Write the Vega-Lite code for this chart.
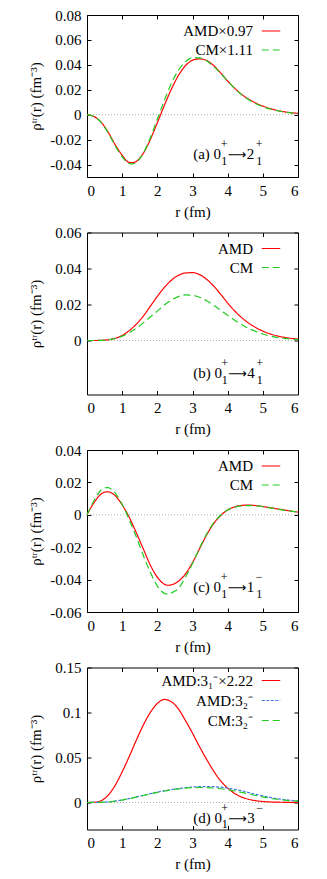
{
  "$schema": "https://vega.github.io/schema/vega-lite/v6.json",
  "background": "white",
  "padding": {"left": 27, "top": 7, "right": 0, "bottom": 0},
  "config": {
    "font": "Liberation Serif",
    "view": {"stroke": "#000", "strokeWidth": 1},
    "axis": {"grid": false, "domain": false, "tickColor": "#000", "tickSize": -4, "labelFont": "Liberation Serif", "labelFontSize": 15, "labelColor": "#000", "titleFont": "Liberation Serif", "titleFontSize": 15, "titleFontWeight": "normal", "titleColor": "#000", "labelPadding": 10, "labelExpr": "replace(format(datum.value, '~g'), '\u2212', '-')"},
    "axisBottom": {"titlePadding": 6},
    "axisLeft": {"titleX": -52, "titleY": 81, "titleAlign": "center", "titleBaseline": "middle", "titleAngle": -90},
    "legend": {"symbolType": "stroke", "symbolSize": 342, "symbolStrokeWidth": 1.2, "labelFont": "Liberation Serif", "labelFontSize": 15, "labelColor": "#000", "labelAlign": "right", "labelOffset": -28, "rowPadding": 1, "padding": 0, "labelLimit": 0},
    "text": {"font": "Liberation Serif", "fontSize": 15, "color": "#000"}
  },
  "datasets": {
    "a": [
      {"r":0,"v":0,"s":"AMD×0.97"},{"r":0.2,"v":-0.0015,"s":"AMD×0.97"},{"r":0.4,"v":-0.006,"s":"AMD×0.97"},{"r":0.6,"v":-0.014,"s":"AMD×0.97"},{"r":0.8,"v":-0.024,"s":"AMD×0.97"},{"r":1.0,"v":-0.0325,"s":"AMD×0.97"},{"r":1.2,"v":-0.0383,"s":"AMD×0.97"},{"r":1.3,"v":-0.0385,"s":"AMD×0.97"},{"r":1.4,"v":-0.0375,"s":"AMD×0.97"},{"r":1.6,"v":-0.031,"s":"AMD×0.97"},{"r":1.8,"v":-0.02,"s":"AMD×0.97"},{"r":2.0,"v":-0.0065,"s":"AMD×0.97"},{"r":2.2,"v":0.0075,"s":"AMD×0.97"},{"r":2.4,"v":0.0205,"s":"AMD×0.97"},{"r":2.6,"v":0.0315,"s":"AMD×0.97"},{"r":2.8,"v":0.0393,"s":"AMD×0.97"},{"r":3.0,"v":0.0437,"s":"AMD×0.97"},{"r":3.2,"v":0.0448,"s":"AMD×0.97"},{"r":3.4,"v":0.0435,"s":"AMD×0.97"},{"r":3.6,"v":0.0395,"s":"AMD×0.97"},{"r":3.8,"v":0.0335,"s":"AMD×0.97"},{"r":4.0,"v":0.027,"s":"AMD×0.97"},{"r":4.2,"v":0.0212,"s":"AMD×0.97"},{"r":4.4,"v":0.0163,"s":"AMD×0.97"},{"r":4.6,"v":0.0124,"s":"AMD×0.97"},{"r":4.8,"v":0.0093,"s":"AMD×0.97"},{"r":5.0,"v":0.0069,"s":"AMD×0.97"},{"r":5.2,"v":0.005,"s":"AMD×0.97"},{"r":5.4,"v":0.0035,"s":"AMD×0.97"},{"r":5.6,"v":0.0024,"s":"AMD×0.97"},{"r":5.8,"v":0.0016,"s":"AMD×0.97"},{"r":6.0,"v":0.0011,"s":"AMD×0.97"},
      {"r":0,"v":0,"s":"CM×1.11"},{"r":0.2,"v":-0.0015,"s":"CM×1.11"},{"r":0.4,"v":-0.0062,"s":"CM×1.11"},{"r":0.6,"v":-0.0145,"s":"CM×1.11"},{"r":0.8,"v":-0.025,"s":"CM×1.11"},{"r":1.0,"v":-0.0338,"s":"CM×1.11"},{"r":1.2,"v":-0.0393,"s":"CM×1.11"},{"r":1.3,"v":-0.0395,"s":"CM×1.11"},{"r":1.4,"v":-0.0383,"s":"CM×1.11"},{"r":1.6,"v":-0.031,"s":"CM×1.11"},{"r":1.8,"v":-0.0185,"s":"CM×1.11"},{"r":2.0,"v":-0.0035,"s":"CM×1.11"},{"r":2.2,"v":0.0115,"s":"CM×1.11"},{"r":2.4,"v":0.0252,"s":"CM×1.11"},{"r":2.6,"v":0.0357,"s":"CM×1.11"},{"r":2.8,"v":0.0425,"s":"CM×1.11"},{"r":3.0,"v":0.0458,"s":"CM×1.11"},{"r":3.2,"v":0.0456,"s":"CM×1.11"},{"r":3.4,"v":0.0432,"s":"CM×1.11"},{"r":3.6,"v":0.0388,"s":"CM×1.11"},{"r":3.8,"v":0.0332,"s":"CM×1.11"},{"r":4.0,"v":0.027,"s":"CM×1.11"},{"r":4.2,"v":0.021,"s":"CM×1.11"},{"r":4.4,"v":0.016,"s":"CM×1.11"},{"r":4.6,"v":0.012,"s":"CM×1.11"},{"r":4.8,"v":0.0088,"s":"CM×1.11"},{"r":5.0,"v":0.0064,"s":"CM×1.11"},{"r":5.2,"v":0.0046,"s":"CM×1.11"},{"r":5.4,"v":0.0032,"s":"CM×1.11"},{"r":5.6,"v":0.0022,"s":"CM×1.11"},{"r":5.8,"v":0.0015,"s":"CM×1.11"},{"r":6.0,"v":0.001,"s":"CM×1.11"}
    ],
    "b": [
      {"r":0,"v":0,"s":"AMD"},{"r":0.2,"v":0,"s":"AMD"},{"r":0.4,"v":0.0001,"s":"AMD"},{"r":0.6,"v":0.0004,"s":"AMD"},{"r":0.8,"v":0.0012,"s":"AMD"},{"r":1.0,"v":0.0028,"s":"AMD"},{"r":1.2,"v":0.0055,"s":"AMD"},{"r":1.4,"v":0.009,"s":"AMD"},{"r":1.6,"v":0.0135,"s":"AMD"},{"r":1.8,"v":0.019,"s":"AMD"},{"r":2.0,"v":0.0245,"s":"AMD"},{"r":2.2,"v":0.0295,"s":"AMD"},{"r":2.4,"v":0.0335,"s":"AMD"},{"r":2.6,"v":0.0362,"s":"AMD"},{"r":2.8,"v":0.0375,"s":"AMD"},{"r":3.0,"v":0.0377,"s":"AMD"},{"r":3.2,"v":0.0366,"s":"AMD"},{"r":3.4,"v":0.034,"s":"AMD"},{"r":3.6,"v":0.0303,"s":"AMD"},{"r":3.8,"v":0.0257,"s":"AMD"},{"r":4.0,"v":0.0208,"s":"AMD"},{"r":4.2,"v":0.0164,"s":"AMD"},{"r":4.4,"v":0.0127,"s":"AMD"},{"r":4.6,"v":0.0096,"s":"AMD"},{"r":4.8,"v":0.0072,"s":"AMD"},{"r":5.0,"v":0.0052,"s":"AMD"},{"r":5.2,"v":0.0037,"s":"AMD"},{"r":5.4,"v":0.0026,"s":"AMD"},{"r":5.6,"v":0.0018,"s":"AMD"},{"r":5.8,"v":0.0012,"s":"AMD"},{"r":6.0,"v":0.0008,"s":"AMD"},
      {"r":0,"v":0,"s":"CM"},{"r":0.2,"v":0,"s":"CM"},{"r":0.4,"v":0.0001,"s":"CM"},{"r":0.6,"v":0.0004,"s":"CM"},{"r":0.8,"v":0.0011,"s":"CM"},{"r":1.0,"v":0.0024,"s":"CM"},{"r":1.2,"v":0.0043,"s":"CM"},{"r":1.4,"v":0.0068,"s":"CM"},{"r":1.6,"v":0.0098,"s":"CM"},{"r":1.8,"v":0.0131,"s":"CM"},{"r":2.0,"v":0.0163,"s":"CM"},{"r":2.2,"v":0.0197,"s":"CM"},{"r":2.4,"v":0.0225,"s":"CM"},{"r":2.6,"v":0.0244,"s":"CM"},{"r":2.8,"v":0.0253,"s":"CM"},{"r":3.0,"v":0.0251,"s":"CM"},{"r":3.2,"v":0.024,"s":"CM"},{"r":3.4,"v":0.0221,"s":"CM"},{"r":3.6,"v":0.0196,"s":"CM"},{"r":3.8,"v":0.0168,"s":"CM"},{"r":4.0,"v":0.014,"s":"CM"},{"r":4.2,"v":0.0113,"s":"CM"},{"r":4.4,"v":0.0088,"s":"CM"},{"r":4.6,"v":0.0067,"s":"CM"},{"r":4.8,"v":0.005,"s":"CM"},{"r":5.0,"v":0.0036,"s":"CM"},{"r":5.2,"v":0.0025,"s":"CM"},{"r":5.4,"v":0.0017,"s":"CM"},{"r":5.6,"v":0.0012,"s":"CM"},{"r":5.8,"v":0.0008,"s":"CM"},{"r":6.0,"v":0.0005,"s":"CM"}
    ],
    "c": [
      {"r":0,"v":0,"s":"AMD"},{"r":0.1,"v":0.004,"s":"AMD"},{"r":0.2,"v":0.0075,"s":"AMD"},{"r":0.3,"v":0.0105,"s":"AMD"},{"r":0.4,"v":0.0128,"s":"AMD"},{"r":0.5,"v":0.014,"s":"AMD"},{"r":0.6,"v":0.0142,"s":"AMD"},{"r":0.7,"v":0.0135,"s":"AMD"},{"r":0.8,"v":0.0118,"s":"AMD"},{"r":0.9,"v":0.0093,"s":"AMD"},{"r":1.0,"v":0.0062,"s":"AMD"},{"r":1.1,"v":0.0025,"s":"AMD"},{"r":1.2,"v":-0.0015,"s":"AMD"},{"r":1.4,"v":-0.011,"s":"AMD"},{"r":1.6,"v":-0.021,"s":"AMD"},{"r":1.8,"v":-0.031,"s":"AMD"},{"r":2.0,"v":-0.0385,"s":"AMD"},{"r":2.2,"v":-0.0428,"s":"AMD"},{"r":2.3,"v":-0.0435,"s":"AMD"},{"r":2.4,"v":-0.0432,"s":"AMD"},{"r":2.6,"v":-0.041,"s":"AMD"},{"r":2.8,"v":-0.0365,"s":"AMD"},{"r":3.0,"v":-0.0295,"s":"AMD"},{"r":3.2,"v":-0.021,"s":"AMD"},{"r":3.4,"v":-0.0125,"s":"AMD"},{"r":3.6,"v":-0.0055,"s":"AMD"},{"r":3.8,"v":-0.0005,"s":"AMD"},{"r":4.0,"v":0.003,"s":"AMD"},{"r":4.2,"v":0.0049,"s":"AMD"},{"r":4.4,"v":0.0058,"s":"AMD"},{"r":4.6,"v":0.006,"s":"AMD"},{"r":4.8,"v":0.0057,"s":"AMD"},{"r":5.0,"v":0.0051,"s":"AMD"},{"r":5.2,"v":0.0044,"s":"AMD"},{"r":5.4,"v":0.0037,"s":"AMD"},{"r":5.6,"v":0.003,"s":"AMD"},{"r":5.8,"v":0.0023,"s":"AMD"},{"r":6.0,"v":0.0017,"s":"AMD"},
      {"r":0,"v":0,"s":"CM"},{"r":0.1,"v":0.0045,"s":"CM"},{"r":0.2,"v":0.0088,"s":"CM"},{"r":0.3,"v":0.0125,"s":"CM"},{"r":0.4,"v":0.0153,"s":"CM"},{"r":0.5,"v":0.0167,"s":"CM"},{"r":0.6,"v":0.0168,"s":"CM"},{"r":0.7,"v":0.0157,"s":"CM"},{"r":0.8,"v":0.0135,"s":"CM"},{"r":0.9,"v":0.0103,"s":"CM"},{"r":1.0,"v":0.0065,"s":"CM"},{"r":1.1,"v":0.002,"s":"CM"},{"r":1.2,"v":-0.003,"s":"CM"},{"r":1.4,"v":-0.0135,"s":"CM"},{"r":1.6,"v":-0.025,"s":"CM"},{"r":1.8,"v":-0.0355,"s":"CM"},{"r":2.0,"v":-0.044,"s":"CM"},{"r":2.2,"v":-0.0485,"s":"CM"},{"r":2.3,"v":-0.049,"s":"CM"},{"r":2.4,"v":-0.0482,"s":"CM"},{"r":2.6,"v":-0.0455,"s":"CM"},{"r":2.8,"v":-0.0385,"s":"CM"},{"r":3.0,"v":-0.03,"s":"CM"},{"r":3.2,"v":-0.0205,"s":"CM"},{"r":3.4,"v":-0.012,"s":"CM"},{"r":3.6,"v":-0.005,"s":"CM"},{"r":3.8,"v":-0.0003,"s":"CM"},{"r":4.0,"v":0.003,"s":"CM"},{"r":4.2,"v":0.0047,"s":"CM"},{"r":4.4,"v":0.0055,"s":"CM"},{"r":4.6,"v":0.0057,"s":"CM"},{"r":4.8,"v":0.0055,"s":"CM"},{"r":5.0,"v":0.005,"s":"CM"},{"r":5.2,"v":0.0043,"s":"CM"},{"r":5.4,"v":0.0036,"s":"CM"},{"r":5.6,"v":0.0029,"s":"CM"},{"r":5.8,"v":0.0023,"s":"CM"},{"r":6.0,"v":0.0017,"s":"CM"}
    ],
    "d": [
      {"r":0,"v":0,"s":"AMD:3₁⁻×2.22"},{"r":0.2,"v":0.0002,"s":"AMD:3₁⁻×2.22"},{"r":0.4,"v":0.002,"s":"AMD:3₁⁻×2.22"},{"r":0.6,"v":0.008,"s":"AMD:3₁⁻×2.22"},{"r":0.8,"v":0.019,"s":"AMD:3₁⁻×2.22"},{"r":1.0,"v":0.034,"s":"AMD:3₁⁻×2.22"},{"r":1.2,"v":0.051,"s":"AMD:3₁⁻×2.22"},{"r":1.4,"v":0.069,"s":"AMD:3₁⁻×2.22"},{"r":1.6,"v":0.086,"s":"AMD:3₁⁻×2.22"},{"r":1.8,"v":0.1,"s":"AMD:3₁⁻×2.22"},{"r":2.0,"v":0.11,"s":"AMD:3₁⁻×2.22"},{"r":2.2,"v":0.1145,"s":"AMD:3₁⁻×2.22"},{"r":2.4,"v":0.112,"s":"AMD:3₁⁻×2.22"},{"r":2.6,"v":0.104,"s":"AMD:3₁⁻×2.22"},{"r":2.8,"v":0.091,"s":"AMD:3₁⁻×2.22"},{"r":3.0,"v":0.077,"s":"AMD:3₁⁻×2.22"},{"r":3.2,"v":0.062,"s":"AMD:3₁⁻×2.22"},{"r":3.4,"v":0.048,"s":"AMD:3₁⁻×2.22"},{"r":3.6,"v":0.035,"s":"AMD:3₁⁻×2.22"},{"r":3.8,"v":0.024,"s":"AMD:3₁⁻×2.22"},{"r":4.0,"v":0.016,"s":"AMD:3₁⁻×2.22"},{"r":4.2,"v":0.01,"s":"AMD:3₁⁻×2.22"},{"r":4.4,"v":0.006,"s":"AMD:3₁⁻×2.22"},{"r":4.6,"v":0.0035,"s":"AMD:3₁⁻×2.22"},{"r":4.8,"v":0.002,"s":"AMD:3₁⁻×2.22"},{"r":5.0,"v":0.0011,"s":"AMD:3₁⁻×2.22"},{"r":5.5,"v":0.0003,"s":"AMD:3₁⁻×2.22"},{"r":6.0,"v":0.0001,"s":"AMD:3₁⁻×2.22"},
      {"r":0,"v":0,"s":"AMD:3₂⁻"},{"r":0.4,"v":0.0002,"s":"AMD:3₂⁻"},{"r":0.8,"v":0.0015,"s":"AMD:3₂⁻"},{"r":1.0,"v":0.0028,"s":"AMD:3₂⁻"},{"r":1.2,"v":0.0044,"s":"AMD:3₂⁻"},{"r":1.4,"v":0.0062,"s":"AMD:3₂⁻"},{"r":1.6,"v":0.008,"s":"AMD:3₂⁻"},{"r":1.8,"v":0.0098,"s":"AMD:3₂⁻"},{"r":2.0,"v":0.0115,"s":"AMD:3₂⁻"},{"r":2.2,"v":0.013,"s":"AMD:3₂⁻"},{"r":2.4,"v":0.0143,"s":"AMD:3₂⁻"},{"r":2.6,"v":0.0155,"s":"AMD:3₂⁻"},{"r":2.8,"v":0.0165,"s":"AMD:3₂⁻"},{"r":3.0,"v":0.0172,"s":"AMD:3₂⁻"},{"r":3.2,"v":0.0176,"s":"AMD:3₂⁻"},{"r":3.4,"v":0.0178,"s":"AMD:3₂⁻"},{"r":3.6,"v":0.0176,"s":"AMD:3₂⁻"},{"r":3.8,"v":0.017,"s":"AMD:3₂⁻"},{"r":4.0,"v":0.016,"s":"AMD:3₂⁻"},{"r":4.2,"v":0.0146,"s":"AMD:3₂⁻"},{"r":4.4,"v":0.013,"s":"AMD:3₂⁻"},{"r":4.6,"v":0.011,"s":"AMD:3₂⁻"},{"r":4.8,"v":0.0091,"s":"AMD:3₂⁻"},{"r":5.0,"v":0.0073,"s":"AMD:3₂⁻"},{"r":5.2,"v":0.0057,"s":"AMD:3₂⁻"},{"r":5.4,"v":0.0043,"s":"AMD:3₂⁻"},{"r":5.6,"v":0.0032,"s":"AMD:3₂⁻"},{"r":5.8,"v":0.0023,"s":"AMD:3₂⁻"},{"r":6.0,"v":0.0016,"s":"AMD:3₂⁻"},
      {"r":0,"v":0,"s":"CM:3₂⁻"},{"r":0.4,"v":0.0002,"s":"CM:3₂⁻"},{"r":0.8,"v":0.0015,"s":"CM:3₂⁻"},{"r":1.0,"v":0.0027,"s":"CM:3₂⁻"},{"r":1.2,"v":0.0043,"s":"CM:3₂⁻"},{"r":1.4,"v":0.006,"s":"CM:3₂⁻"},{"r":1.6,"v":0.0078,"s":"CM:3₂⁻"},{"r":1.8,"v":0.0096,"s":"CM:3₂⁻"},{"r":2.0,"v":0.0113,"s":"CM:3₂⁻"},{"r":2.2,"v":0.0128,"s":"CM:3₂⁻"},{"r":2.4,"v":0.0141,"s":"CM:3₂⁻"},{"r":2.6,"v":0.0152,"s":"CM:3₂⁻"},{"r":2.8,"v":0.016,"s":"CM:3₂⁻"},{"r":3.0,"v":0.0165,"s":"CM:3₂⁻"},{"r":3.2,"v":0.0167,"s":"CM:3₂⁻"},{"r":3.4,"v":0.0166,"s":"CM:3₂⁻"},{"r":3.6,"v":0.0161,"s":"CM:3₂⁻"},{"r":3.8,"v":0.0153,"s":"CM:3₂⁻"},{"r":4.0,"v":0.0142,"s":"CM:3₂⁻"},{"r":4.2,"v":0.0128,"s":"CM:3₂⁻"},{"r":4.4,"v":0.0112,"s":"CM:3₂⁻"},{"r":4.6,"v":0.0095,"s":"CM:3₂⁻"},{"r":4.8,"v":0.0078,"s":"CM:3₂⁻"},{"r":5.0,"v":0.0062,"s":"CM:3₂⁻"},{"r":5.2,"v":0.0048,"s":"CM:3₂⁻"},{"r":5.4,"v":0.0036,"s":"CM:3₂⁻"},{"r":5.6,"v":0.0027,"s":"CM:3₂⁻"},{"r":5.8,"v":0.002,"s":"CM:3₂⁻"},{"r":6.0,"v":0.0015,"s":"CM:3₂⁻"}
    ]
  },
  "resolve": {"scale": {"color": "independent", "strokeDash": "independent"}},
  "bounds": "flush",
  "spacing": 55.5,
  "vconcat": [
    {
      "width": 211, "height": 162,
      "data": {"name": "a"},
      "resolve": {"axis": {"x": "independent", "y": "independent"}},
      "layer": [
        {"data": {"values": [{}]}, "mark": {"type": "rule", "color": "#999", "strokeDash": [1, 2], "strokeWidth": 0.8}, "encoding": {"y": {"datum": 0, "type": "quantitative", "axis": null}}},
        {"mark": {"type": "line", "strokeWidth": 1.2, "interpolate": "monotone"},
         "encoding": {
           "x": {"field": "r", "type": "quantitative", "scale": {"domain": [0, 6], "nice": false, "zero": false}, "axis": {"orient": "bottom", "values": [0,1,2,3,4,5,6], "title": "r (fm)"}},
           "y": {"field": "v", "type": "quantitative", "scale": {"domain": [-0.05, 0.08], "nice": false, "zero": false}, "axis": {"orient": "left", "values": [-0.04,-0.02,0,0.02,0.04,0.06,0.08], "title": "ρᵗʳ(r) (fm⁻³)"}},
           "color": {"field": "s", "type": "nominal", "scale": {"domain": ["AMD×0.97", "CM×1.11"], "range": ["#ff0000", "#22cc22"]}, "legend": {"title": null, "orient": "none", "legendX": 174, "legendY": 6}},
           "strokeDash": {"field": "s", "type": "nominal", "scale": {"domain": ["AMD×0.97", "CM×1.11"], "range": [[1, 0], [7, 4]]}, "legend": {"title": null, "orient": "none", "legendX": 174, "legendY": 6}}
         }},
        {"data": {"values": [{}]}, "mark": {"type": "text", "text": "(a) 0", "align": "left", "baseline": "alphabetic"}, "encoding": {"x": {"datum": 3.02, "type": "quantitative", "axis": {"orient": "top", "labels": false, "title": null, "values": [0,1,2,3,4,5,6]}}, "y": {"datum": -0.0356, "type": "quantitative", "axis": {"orient": "right", "labels": false, "title": null, "values": [-0.04,-0.02,0,0.02,0.04,0.06,0.08]}}}},
        {"data": {"values": [{}]}, "mark": {"type": "text", "text": "+", "align": "left", "baseline": "alphabetic", "fontSize": 12, "dx": 27.5, "dy": -11}, "encoding": {"x": {"datum": 3.02, "type": "quantitative", "axis": null}, "y": {"datum": -0.0356, "type": "quantitative", "axis": null}}},
        {"data": {"values": [{}]}, "mark": {"type": "text", "text": "1", "align": "left", "baseline": "alphabetic", "fontSize": 12, "dx": 28, "dy": 5.5}, "encoding": {"x": {"datum": 3.02, "type": "quantitative", "axis": null}, "y": {"datum": -0.0356, "type": "quantitative", "axis": null}}},
        {"data": {"values": [{}]}, "mark": {"type": "text", "text": "⟶", "align": "left", "baseline": "alphabetic", "font": "DejaVu Sans", "fontSize": 13, "dx": 34.5}, "encoding": {"x": {"datum": 3.02, "type": "quantitative", "axis": null}, "y": {"datum": -0.0356, "type": "quantitative", "axis": null}}},
        {"data": {"values": [{}]}, "mark": {"type": "text", "text": "2", "align": "left", "baseline": "alphabetic", "dx": 53.5}, "encoding": {"x": {"datum": 3.02, "type": "quantitative", "axis": null}, "y": {"datum": -0.0356, "type": "quantitative", "axis": null}}},
        {"data": {"values": [{}]}, "mark": {"type": "text", "text": "+", "align": "left", "baseline": "alphabetic", "fontSize": 12, "dx": 62.5, "dy": -11}, "encoding": {"x": {"datum": 3.02, "type": "quantitative", "axis": null}, "y": {"datum": -0.0356, "type": "quantitative", "axis": null}}},
        {"data": {"values": [{}]}, "mark": {"type": "text", "text": "1", "align": "left", "baseline": "alphabetic", "fontSize": 12, "dx": 63, "dy": 5.5}, "encoding": {"x": {"datum": 3.02, "type": "quantitative", "axis": null}, "y": {"datum": -0.0356, "type": "quantitative", "axis": null}}}
      ]
    },
    {
      "width": 211, "height": 162,
      "data": {"name": "b"},
      "resolve": {"axis": {"x": "independent", "y": "independent"}},
      "layer": [
        {"data": {"values": [{}]}, "mark": {"type": "rule", "color": "#999", "strokeDash": [1, 2], "strokeWidth": 0.8}, "encoding": {"y": {"datum": 0, "type": "quantitative", "axis": null}}},
        {"mark": {"type": "line", "strokeWidth": 1.2, "interpolate": "monotone"},
         "encoding": {
           "x": {"field": "r", "type": "quantitative", "scale": {"domain": [0, 6], "nice": false, "zero": false}, "axis": {"orient": "bottom", "values": [0,1,2,3,4,5,6], "title": "r (fm)"}},
           "y": {"field": "v", "type": "quantitative", "scale": {"domain": [-0.03, 0.06], "nice": false, "zero": false}, "axis": {"orient": "left", "values": [0,0.02,0.04,0.06], "title": "ρᵗʳ(r) (fm⁻³)"}},
           "color": {"field": "s", "type": "nominal", "scale": {"domain": ["AMD", "CM"], "range": ["#ff0000", "#22cc22"]}, "legend": {"title": null, "orient": "none", "legendX": 174, "legendY": 6}},
           "strokeDash": {"field": "s", "type": "nominal", "scale": {"domain": ["AMD", "CM"], "range": [[1, 0], [7, 4]]}, "legend": {"title": null, "orient": "none", "legendX": 174, "legendY": 6}}
         }},
        {"data": {"values": [{}]}, "mark": {"type": "text", "text": "(b) 0", "align": "left", "baseline": "alphabetic"}, "encoding": {"x": {"datum": 3.02, "type": "quantitative", "axis": {"orient": "top", "labels": false, "title": null, "values": [0,1,2,3,4,5,6]}}, "y": {"datum": -0.0211, "type": "quantitative", "axis": {"orient": "right", "labels": false, "title": null, "values": [0,0.02,0.04,0.06]}}}},
        {"data": {"values": [{}]}, "mark": {"type": "text", "text": "+", "align": "left", "baseline": "alphabetic", "fontSize": 12, "dx": 28, "dy": -11}, "encoding": {"x": {"datum": 3.02, "type": "quantitative", "axis": null}, "y": {"datum": -0.0211, "type": "quantitative", "axis": null}}},
        {"data": {"values": [{}]}, "mark": {"type": "text", "text": "1", "align": "left", "baseline": "alphabetic", "fontSize": 12, "dx": 28.5, "dy": 5.5}, "encoding": {"x": {"datum": 3.02, "type": "quantitative", "axis": null}, "y": {"datum": -0.0211, "type": "quantitative", "axis": null}}},
        {"data": {"values": [{}]}, "mark": {"type": "text", "text": "⟶", "align": "left", "baseline": "alphabetic", "font": "DejaVu Sans", "fontSize": 13, "dx": 35}, "encoding": {"x": {"datum": 3.02, "type": "quantitative", "axis": null}, "y": {"datum": -0.0211, "type": "quantitative", "axis": null}}},
        {"data": {"values": [{}]}, "mark": {"type": "text", "text": "4", "align": "left", "baseline": "alphabetic", "dx": 54}, "encoding": {"x": {"datum": 3.02, "type": "quantitative", "axis": null}, "y": {"datum": -0.0211, "type": "quantitative", "axis": null}}},
        {"data": {"values": [{}]}, "mark": {"type": "text", "text": "+", "align": "left", "baseline": "alphabetic", "fontSize": 12, "dx": 63, "dy": -11}, "encoding": {"x": {"datum": 3.02, "type": "quantitative", "axis": null}, "y": {"datum": -0.0211, "type": "quantitative", "axis": null}}},
        {"data": {"values": [{}]}, "mark": {"type": "text", "text": "1", "align": "left", "baseline": "alphabetic", "fontSize": 12, "dx": 63.5, "dy": 5.5}, "encoding": {"x": {"datum": 3.02, "type": "quantitative", "axis": null}, "y": {"datum": -0.0211, "type": "quantitative", "axis": null}}}
      ]
    },
    {
      "width": 211, "height": 162,
      "data": {"name": "c"},
      "resolve": {"axis": {"x": "independent", "y": "independent"}},
      "layer": [
        {"data": {"values": [{}]}, "mark": {"type": "rule", "color": "#999", "strokeDash": [1, 2], "strokeWidth": 0.8}, "encoding": {"y": {"datum": 0, "type": "quantitative", "axis": null}}},
        {"mark": {"type": "line", "strokeWidth": 1.2, "interpolate": "monotone"},
         "encoding": {
           "x": {"field": "r", "type": "quantitative", "scale": {"domain": [0, 6], "nice": false, "zero": false}, "axis": {"orient": "bottom", "values": [0,1,2,3,4,5,6], "title": "r (fm)"}},
           "y": {"field": "v", "type": "quantitative", "scale": {"domain": [-0.06, 0.04], "nice": false, "zero": false}, "axis": {"orient": "left", "values": [-0.06,-0.04,-0.02,0,0.02,0.04], "title": "ρᵗʳ(r) (fm⁻³)"}},
           "color": {"field": "s", "type": "nominal", "scale": {"domain": ["AMD", "CM"], "range": ["#ff0000", "#22cc22"]}, "legend": {"title": null, "orient": "none", "legendX": 174, "legendY": 6}},
           "strokeDash": {"field": "s", "type": "nominal", "scale": {"domain": ["AMD", "CM"], "range": [[1, 0], [7, 4]]}, "legend": {"title": null, "orient": "none", "legendX": 174, "legendY": 6}}
         }},
        {"data": {"values": [{}]}, "mark": {"type": "text", "text": "(c) 0", "align": "left", "baseline": "alphabetic"}, "encoding": {"x": {"datum": 3.02, "type": "quantitative", "axis": {"orient": "top", "labels": false, "title": null, "values": [0,1,2,3,4,5,6]}}, "y": {"datum": -0.0477, "type": "quantitative", "axis": {"orient": "right", "labels": false, "title": null, "values": [-0.06,-0.04,-0.02,0,0.02,0.04]}}}},
        {"data": {"values": [{}]}, "mark": {"type": "text", "text": "+", "align": "left", "baseline": "alphabetic", "fontSize": 12, "dx": 27.5, "dy": -11}, "encoding": {"x": {"datum": 3.02, "type": "quantitative", "axis": null}, "y": {"datum": -0.0477, "type": "quantitative", "axis": null}}},
        {"data": {"values": [{}]}, "mark": {"type": "text", "text": "1", "align": "left", "baseline": "alphabetic", "fontSize": 12, "dx": 28, "dy": 5.5}, "encoding": {"x": {"datum": 3.02, "type": "quantitative", "axis": null}, "y": {"datum": -0.0477, "type": "quantitative", "axis": null}}},
        {"data": {"values": [{}]}, "mark": {"type": "text", "text": "⟶", "align": "left", "baseline": "alphabetic", "font": "DejaVu Sans", "fontSize": 13, "dx": 34.5}, "encoding": {"x": {"datum": 3.02, "type": "quantitative", "axis": null}, "y": {"datum": -0.0477, "type": "quantitative", "axis": null}}},
        {"data": {"values": [{}]}, "mark": {"type": "text", "text": "1", "align": "left", "baseline": "alphabetic", "dx": 53.5}, "encoding": {"x": {"datum": 3.02, "type": "quantitative", "axis": null}, "y": {"datum": -0.0477, "type": "quantitative", "axis": null}}},
        {"data": {"values": [{}]}, "mark": {"type": "text", "text": "−", "align": "left", "baseline": "alphabetic", "fontSize": 12, "dx": 62.5, "dy": -11}, "encoding": {"x": {"datum": 3.02, "type": "quantitative", "axis": null}, "y": {"datum": -0.0477, "type": "quantitative", "axis": null}}},
        {"data": {"values": [{}]}, "mark": {"type": "text", "text": "1", "align": "left", "baseline": "alphabetic", "fontSize": 12, "dx": 63, "dy": 5.5}, "encoding": {"x": {"datum": 3.02, "type": "quantitative", "axis": null}, "y": {"datum": -0.0477, "type": "quantitative", "axis": null}}}
      ]
    },
    {
      "width": 211, "height": 162,
      "data": {"name": "d"},
      "resolve": {"axis": {"x": "independent", "y": "independent"}},
      "layer": [
        {"data": {"values": [{}]}, "mark": {"type": "rule", "color": "#999", "strokeDash": [1, 2], "strokeWidth": 0.8}, "encoding": {"y": {"datum": 0, "type": "quantitative", "axis": null}}},
        {"mark": {"type": "line", "strokeWidth": 1.2, "interpolate": "monotone"},
         "encoding": {
           "x": {"field": "r", "type": "quantitative", "scale": {"domain": [0, 6], "nice": false, "zero": false}, "axis": {"orient": "bottom", "values": [0,1,2,3,4,5,6], "title": "r (fm)"}},
           "y": {"field": "v", "type": "quantitative", "scale": {"domain": [-0.03, 0.15], "nice": false, "zero": false}, "axis": {"orient": "left", "values": [0,0.05,0.1,0.15], "title": "ρᵗʳ(r) (fm⁻³)"}},
           "color": {"field": "s", "type": "nominal", "scale": {"domain": ["AMD:3₁⁻×2.22", "AMD:3₂⁻", "CM:3₂⁻"], "range": ["#ff0000", "#4477ee", "#22cc22"]}, "legend": {"title": null, "orient": "none", "legendX": 174, "legendY": 3, "rowPadding": 2}},
           "strokeDash": {"field": "s", "type": "nominal", "scale": {"domain": ["AMD:3₁⁻×2.22", "AMD:3₂⁻", "CM:3₂⁻"], "range": [[1, 0], [3, 1.5], [7, 4]]}, "legend": {"title": null, "orient": "none", "legendX": 174, "legendY": 3, "rowPadding": 2}}
         }},
        {"data": {"values": [{}]}, "mark": {"type": "text", "text": "(d) 0", "align": "left", "baseline": "alphabetic"}, "encoding": {"x": {"datum": 3.02, "type": "quantitative", "axis": {"orient": "top", "labels": false, "title": null, "values": [0,1,2,3,4,5,6]}}, "y": {"datum": -0.0223, "type": "quantitative", "axis": {"orient": "right", "labels": false, "title": null, "values": [0,0.05,0.1,0.15]}}}},
        {"data": {"values": [{}]}, "mark": {"type": "text", "text": "+", "align": "left", "baseline": "alphabetic", "fontSize": 12, "dx": 28, "dy": -11}, "encoding": {"x": {"datum": 3.02, "type": "quantitative", "axis": null}, "y": {"datum": -0.0223, "type": "quantitative", "axis": null}}},
        {"data": {"values": [{}]}, "mark": {"type": "text", "text": "1", "align": "left", "baseline": "alphabetic", "fontSize": 12, "dx": 28.5, "dy": 5.5}, "encoding": {"x": {"datum": 3.02, "type": "quantitative", "axis": null}, "y": {"datum": -0.0223, "type": "quantitative", "axis": null}}},
        {"data": {"values": [{}]}, "mark": {"type": "text", "text": "⟶", "align": "left", "baseline": "alphabetic", "font": "DejaVu Sans", "fontSize": 13, "dx": 35}, "encoding": {"x": {"datum": 3.02, "type": "quantitative", "axis": null}, "y": {"datum": -0.0223, "type": "quantitative", "axis": null}}},
        {"data": {"values": [{}]}, "mark": {"type": "text", "text": "3", "align": "left", "baseline": "alphabetic", "dx": 54}, "encoding": {"x": {"datum": 3.02, "type": "quantitative", "axis": null}, "y": {"datum": -0.0223, "type": "quantitative", "axis": null}}},
        {"data": {"values": [{}]}, "mark": {"type": "text", "text": "−", "align": "left", "baseline": "alphabetic", "fontSize": 12, "dx": 63, "dy": -11}, "encoding": {"x": {"datum": 3.02, "type": "quantitative", "axis": null}, "y": {"datum": -0.0223, "type": "quantitative", "axis": null}}}
      ]
    }
  ]
}
